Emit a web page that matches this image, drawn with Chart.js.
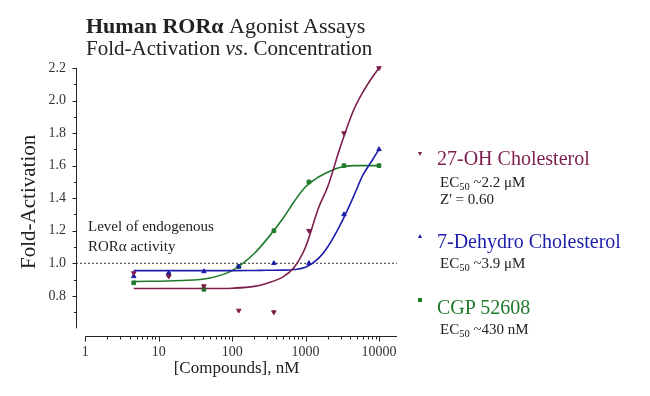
<!DOCTYPE html>
<html>
<head>
<meta charset="utf-8">
<script src="https://cdn.jsdelivr.net/npm/chart.js@4.4.7/dist/chart.umd.min.js"></script>
<style>
*{margin:0;padding:0;box-sizing:border-box}
body{background:#fff;font-family:'Liberation Serif','Times New Roman',serif;color:#222}
#wrap{position:relative;width:650px;height:396px}
.t{position:absolute;white-space:nowrap;line-height:1}
.t sub{font-size:0.7em;vertical-align:-0.25em;line-height:0}
.mk{position:absolute;width:0;height:0}
</style>
</head>
<body>
<div id="wrap">
  <canvas id="chart" width="650" height="396"></canvas>

  <div class="t" style="left:86px;top:15px;font-size:22px"><b>Human ROR&alpha;</b> Agonist Assays</div>
  <div class="t" style="left:86px;top:38px;font-size:21px">Fold-Activation <i>vs</i>. Concentration</div>

  <div class="t" style="left:88px;top:219px;font-size:15px">Level of endogenous</div>
  <div class="t" style="left:88px;top:239px;font-size:15px">ROR&alpha; activity</div>

  <div class="mk" style="left:418px;top:152px;border-left:2.5px solid transparent;border-right:2.5px solid transparent;border-top:4px solid #7d1d4c"></div>
  <div class="t" style="left:437px;top:148px;font-size:20px;color:#7d1d4c">27-OH Cholesterol</div>
  <div class="t" style="left:440px;top:175px;font-size:15px">EC<sub>50</sub> ~2.2 &mu;M</div>
  <div class="t" style="left:440px;top:192px;font-size:15px">Z' = 0.60</div>

  <div class="mk" style="left:418px;top:234px;border-left:2.5px solid transparent;border-right:2.5px solid transparent;border-bottom:4px solid #1d1dab"></div>
  <div class="t" style="left:437px;top:231px;font-size:20px;color:#1d1dab">7-Dehydro Cholesterol</div>
  <div class="t" style="left:440px;top:256px;font-size:15px">EC<sub>50</sub> ~3.9 &mu;M</div>

  <div class="mk" style="left:418px;top:298px;width:4px;height:4px;background:#1f7a2a"></div>
  <div class="t" style="left:437px;top:297px;font-size:20px;color:#1f7a2a">CGP 52608</div>
  <div class="t" style="left:440px;top:322px;font-size:15px">EC<sub>50</sub> ~430 nM</div>
</div>
<script>
// measured points, nM
const concentrations = [4.57, 13.7, 41.2, 123, 370, 1111, 3333, 10000];
const ohCholesterol = [0.94, 0.92, 0.86, 0.71, 0.70, 1.20, 1.80, 2.20];
const dehydroCholesterol = [0.92, 0.94, 0.95, 0.98, 1.00, 1.00, 1.30, 1.70];
const cgp52608 = [0.88, 0.93, 0.84, 0.98, 1.20, 1.50, 1.60, 1.60];

// fitted curves
const fitConc = [4.57, 20, 50, 100, 200, 300, 500, 700, 1000, 1500, 2000, 3000, 4500, 6000, 8000, 10000];
const ohFit = [0.845, 0.845, 0.845, 0.847, 0.858, 0.878, 0.918, 0.975, 1.10, 1.34, 1.47, 1.72, 1.94, 2.05, 2.14, 2.20];
const dehydroFit = [0.955, 0.955, 0.955, 0.955, 0.956, 0.957, 0.958, 0.962, 0.975, 1.03, 1.10, 1.24, 1.41, 1.54, 1.63, 1.70];
const cgpFit = [0.888, 0.894, 0.91, 0.955, 1.06, 1.15, 1.28, 1.38, 1.47, 1.53, 1.56, 1.59, 1.60, 1.60, 1.60, 1.60];

const xTicks = [1, 10, 100, 1000, 10000];
const yTicks = [0.8, 1.0, 1.2, 1.4, 1.6, 1.8, 2.0, 2.2];
const endogenousLevel = 1.0;

const X_MIN = 0.747, X_MAX = 17580, Y_MIN = 0.555, Y_MAX = 2.2, Y_AXIS_FROM = 0.6;
const RED = '#7d1d4c', BLUE = '#1d1dab', GREEN = '#1f7a2a';
const serif = "'Liberation Serif', 'Times New Roman', serif";

const pts = ys => concentrations.map((c, i) => ({ x: c, y: ys[i] }));
const fit = ys => fitConc.map((c, i) => ({ x: c, y: ys[i] }));

function curve(ys, color) {
  return { data: fit(ys), showLine: true, borderColor: color, borderWidth: 1.6, pointRadius: 0,
           cubicInterpolationMode: 'monotone', clip: false, order: 5 };
}
function marks(ys, color, style, rot) {
  return { data: pts(ys), showLine: false, pointStyle: style, rotation: rot || 0, pointRadius: 2.6,
           borderColor: color, backgroundColor: color, borderWidth: 1, clip: false, order: 1 };
}

// Prism-like detached axes with minor ticks
const axesPlugin = {
  id: 'axes',
  beforeDatasetsDraw(chart) {
    const { ctx, chartArea, scales: { x, y } } = chart;
    ctx.save();
    ctx.strokeStyle = '#222';
    ctx.lineWidth = 1;
    ctx.beginPath();
    const ax = Math.round(chartArea.left) + 0.5;
    ctx.moveTo(ax, y.getPixelForValue(Y_MAX));
    ctx.lineTo(ax, y.getPixelForValue(Y_AXIS_FROM));
    yTicks.forEach((v, i) => {
      const py = Math.round(y.getPixelForValue(v)) + 0.5;
      ctx.moveTo(ax, py); ctx.lineTo(ax - 4, py);
      const mid = i === 0 ? v - 0.1 : (v + yTicks[i - 1]) / 2;
      const pm = Math.round(y.getPixelForValue(mid)) + 0.5;
      ctx.moveTo(ax, pm); ctx.lineTo(ax - 2.5, pm);
    });
    const by = Math.round(chartArea.bottom) + 0.5;
    ctx.moveTo(x.getPixelForValue(xTicks[0]), by);
    ctx.lineTo(chartArea.right, by);
    xTicks.forEach((v, i) => {
      const px = Math.round(x.getPixelForValue(v)) + 0.5;
      ctx.moveTo(px, by); ctx.lineTo(px, by + 5);
      if (i < xTicks.length - 1) {
        for (let k = 2; k <= 9; k++) {
          const pm = Math.round(x.getPixelForValue(v * k)) + 0.5;
          ctx.moveTo(pm, by); ctx.lineTo(pm, by + 3);
        }
      }
    });
    ctx.stroke();
    ctx.restore();
  }
};

new Chart(document.getElementById('chart'), {
  type: 'scatter',
  data: {
    datasets: [
      { data: [{ x: X_MIN, y: endogenousLevel }, { x: X_MAX, y: endogenousLevel }], showLine: true,
        borderColor: '#333', borderWidth: 1, borderDash: [2, 2], pointRadius: 0, clip: false, order: 10 },
      curve(ohFit, RED),
      curve(dehydroFit, BLUE),
      curve(cgpFit, GREEN),
      marks(ohCholesterol, RED, 'triangle', 180),
      marks(dehydroCholesterol, BLUE, 'triangle'),
      marks(cgp52608, GREEN, 'rect')
    ]
  },
  options: {
    responsive: false,
    animation: false,
    layout: { padding: { left: 0, top: 68, right: 253, bottom: 0 } },
    plugins: { legend: { display: false }, tooltip: { enabled: false } },
    scales: {
      x: {
        type: 'logarithmic', min: X_MIN, max: X_MAX, bounds: 'data',
        grid: { display: false, drawTicks: false }, border: { display: false },
        afterBuildTicks: s => { s.ticks = xTicks.map(v => ({ value: v })); },
        afterFit: s => { s.height = 60.3; },
        ticks: { callback: v => String(v), font: { family: serif, size: 14 }, color: '#333',
                 padding: 8, maxRotation: 0, autoSkip: false },
        title: { display: true, text: '[Compounds], nM', font: { family: serif, size: 17 }, color: '#222',
                 padding: { top: 0, bottom: 17 } }
      },
      y: {
        min: Y_MIN, max: Y_MAX, bounds: 'data',
        grid: { display: false, drawTicks: false }, border: { display: false },
        afterBuildTicks: s => { s.ticks = yTicks.map(v => ({ value: v })); },
        afterFit: s => { s.width = 76; },
        ticks: { callback: v => v.toFixed(1), font: { family: serif, size: 14 }, color: '#333', padding: 10 },
        title: { display: true, text: 'Fold-Activation', font: { family: serif, size: 21 }, color: '#222',
                 padding: { top: 17, bottom: 0 } }
      }
    }
  },
  plugins: [axesPlugin]
});
</script>
</body>
</html>
